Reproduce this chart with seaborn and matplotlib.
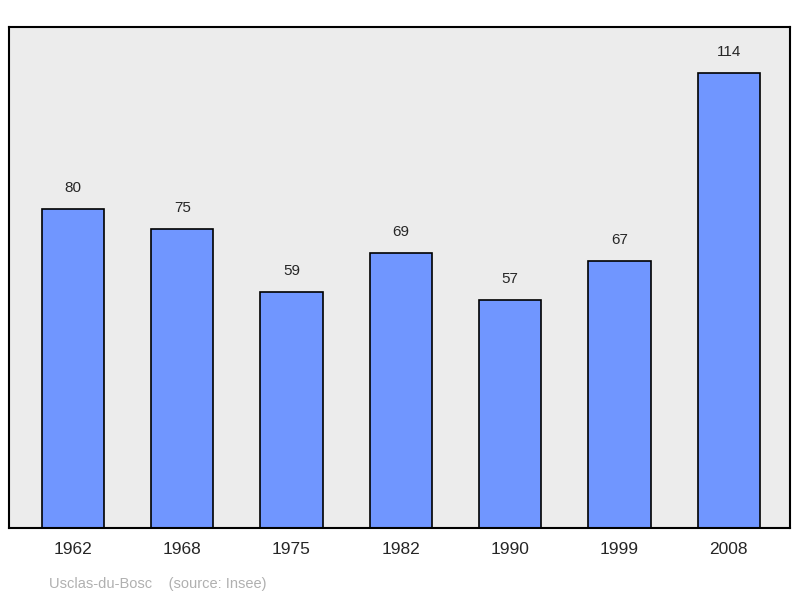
import matplotlib
matplotlib.use("Agg")
import matplotlib.pyplot as plt
import seaborn as sns
import pandas as pd

years = ["1962", "1968", "1975", "1982", "1990", "1999", "2008"]
population = [80, 75, 59, 69, 57, 67, 114]

sns.set_style("white")
plt.rcParams['font.family'] = ['Liberation Sans', 'DejaVu Sans']

fig = plt.figure(figsize=(8, 5.98), dpi=100)
ax = fig.add_axes([9/800, 1-528/598, 781/800, 501/598])
df = pd.DataFrame({"year": years, "pop": population})
sns.barplot(data=df, x="year", y="pop", ax=ax, color="#7096ff", saturation=1,
            width=0.57, edgecolor="black", linewidth=1.2)
ax.set_facecolor("#ececec")
ax.set_xlim(-0.585, 6.56)
ax.set_ylim(0, 125.5)
for i, v in enumerate(population):
    ax.text(i, v + 3.5, str(v), ha="center", va="bottom", fontsize=11)
ax.set_yticks([])
ax.set_xlabel("")
ax.set_ylabel("")
ax.tick_params(axis="x", length=0, labelsize=12.5, pad=10)
for s in ax.spines.values():
    s.set_color("black")
    s.set_linewidth(1.5)
fig.text(49/800, 1-584/598, "Usclas-du-Bosc    (source: Insee)", color="#b0b0b0",
         fontsize=10.5, va="center")
fig.savefig("out.png", dpi=100)
